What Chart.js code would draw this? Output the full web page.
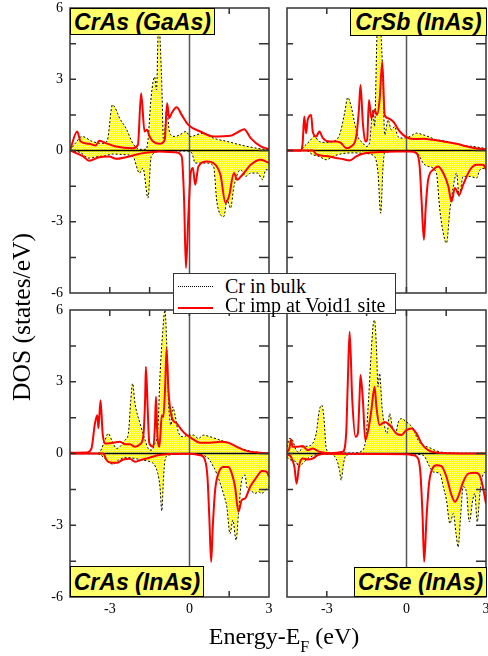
<!DOCTYPE html>
<html>
<head>
<meta charset="utf-8">
<script src="https://cdn.jsdelivr.net/npm/chart.js@4.4.1/dist/chart.umd.min.js"></script>
<style>
  html, body { margin: 0; padding: 0; background: #fff; }
  #wrap { position: relative; width: 488px; height: 656px; overflow: hidden; }
  canvas { position: absolute; left: 0; top: 0; }
  .lab { position: absolute; box-sizing: border-box; border: 1px solid #000;
         background: #ffff6a;
         font-family: "Liberation Sans", Arial, sans-serif; font-weight: bold; font-style: italic;
         font-size: 23px; color: #000; text-align: center; white-space: nowrap; z-index: 5; }
  .title { position: absolute; font-family: "Liberation Serif", "Times New Roman", serif; font-size: 24px; color: #000; white-space: nowrap; z-index: 5; }
  #legend { position: absolute; left: 173px; top: 273px; width: 223px; height: 41px; box-sizing: border-box;
            border: 1px solid #333; background: #fff; z-index: 6;
            font-family: "Liberation Serif", "Times New Roman", serif; font-size: 20px; color: #000; }
  .row { position: absolute; left: 0; height: 20px; line-height: 20px; white-space: nowrap; }
  .sample { position: absolute; left: 4px; width: 35px; }
  .txt { position: absolute; left: 51px; top: 0; }
</style>
</head>
<body>
<div id="wrap">
  <canvas id="c0" width="488" height="656"></canvas>
  <canvas id="c1" width="488" height="656"></canvas>
  <canvas id="c2" width="488" height="656"></canvas>
  <canvas id="c3" width="488" height="656"></canvas>

  <div class="lab" style="left:70px;top:8px;width:145px;height:27px;line-height:26px;">CrAs (GaAs)</div>
  <div class="lab" style="left:350px;top:8px;width:137px;height:28px;line-height:27px;">CrSb (InAs)</div>
  <div class="lab" style="left:70px;top:566px;width:134px;height:31px;line-height:30px;">CrAs (InAs)</div>
  <div class="lab" style="left:354px;top:567px;width:133px;height:30px;line-height:29px;">CrSe (InAs)</div>

  <div id="legend">
    <div class="row" style="top:2px;width:100%;">
      <div class="sample" style="top:10px;border-top:1px dotted #000;"></div>
      <div class="txt">Cr in bulk</div>
    </div>
    <div class="row" style="top:21px;width:100%;">
      <div class="sample" style="top:12px;border-top:2px solid #ff0000;"></div>
      <div class="txt">Cr imp at Void1 site</div>
    </div>
  </div>

  <div class="title" style="left:-128px;top:305px;width:300px;text-align:center;line-height:24px;font-size:25.5px;transform:rotate(-90deg);">DOS (states/eV)</div>
  <div class="title" style="left:134px;top:624px;width:300px;text-align:center;line-height:24px;">Energy-E<span style="font-size:16px;position:relative;top:8px;">F</span> (eV)</div>
</div>

<script>
// ---------------- DATA ----------------
const energyMin = -4.5;
const energyMax = 3;
const dosMin = -6;
const dosMax = 6;
const panelLabels = ["CrAs (GaAs)", "CrSb (InAs)", "CrAs (InAs)", "CrSe (InAs)"];
const seriesNames = ["Cr in bulk", "Cr imp at Void1 site"];

// Top-left: CrAs (GaAs)
const tlBulkUpE = [-4.5, -4.3, -4.04, -3.66, -3.28, -3.1, -2.9, -2.6, -2.39, -2.13, -1.88, -1.63, -1.56, -1.44, -1.31, -1.24, -1.16, -1.05, -0.97, -0.86, -0.74, -0.55, -0.36, -0.13, 0.03, 0.53, 0.91, 1.42, 2.06, 2.69, 3.0];
const tlBulkUpD = [0, 0.3, 0.59, 0.38, 0.3, 0.4, 1.92, 1.3, 0.94, 0.3, 0.05, 0.05, 0.45, 2.27, 3.1, 2.55, 5.5, 3.1, 0.3, 1.7, 0.73, 0.59, 0.66, 0.8, 0.59, 0.73, 0.52, 0.38, 0.2, 0.07, 0.03];
const tlBulkDnE = [-4.5, -4.12, -3.78, -3.4, -3.15, -2.9, -2.39, -2.13, -1.88, -1.75, -1.56, -1.44, -1.12, -0.1, 0.09, 0.22, 0.66, 0.91, 1.04, 1.3, 1.42, 1.55, 1.68, 1.93, 2.12, 2.31, 2.57, 2.76, 2.88, 3.0];
const tlBulkDnD = [0, -0.08, -0.32, -0.25, -0.22, -0.15, -0.18, -0.25, -0.95, -0.74, -2.0, -0.25, -0.04, -0.02, -0.1, -0.53, -0.53, -0.67, -2.2, -2.78, -2.07, -2.43, -1.51, -0.81, -1.09, -0.95, -0.95, -1.23, -0.81, -0.81];
const tlImpUpE = [-4.5, -4.23, -4.1, -3.78, -3.53, -3.4, -3.15, -2.77, -2.13, -1.94, -1.82, -1.69, -1.6, -1.5, -1.37, -1.12, -0.93, -0.84, -0.76, -0.67, -0.48, -0.29, -0.04, 0.41, 0.91, 1.55, 1.87, 2.06, 2.31, 2.69, 3.0];
const tlImpUpD = [0, 0.8, 0.38, 0.28, 0.21, 0.41, 0.31, 0.17, 0.1, 0.24, 2.41, 0.8, 0.87, 0.59, 0.38, 0.28, 0.45, 1.99, 1.36, 1.57, 1.82, 1.5, 1.08, 0.8, 0.59, 0.62, 0.8, 0.9, 0.52, 0.17, 0.06];
const tlImpDnE = [-4.5, -4.0, -3.78, -3.4, -3.02, -2.77, -2.39, -1.75, -1.12, -0.48, -0.29, -0.2, -0.13, -0.04, 0.05, 0.13, 0.22, 0.34, 0.66, 0.91, 1.17, 1.36, 1.49, 1.68, 1.8, 2.0, 2.31, 2.69, 3.0];
const tlImpDnD = [0, -0.25, -0.43, -0.28, -0.25, -0.35, -0.28, -0.11, -0.04, -0.08, -0.25, -2.07, -4.95, -2.78, -0.95, -0.74, -1.44, -0.67, -0.46, -0.53, -1.02, -2.2, -1.94, -0.95, -1.23, -1.02, -0.6, -0.39, -0.53];

// Top-right: CrSb (InAs)
const trBulkUpE = [-4.5, -3.97, -3.91, -3.66, -3.47, -3.28, -3.03, -2.77, -2.52, -2.33, -2.21, -2.08, -1.95, -1.83, -1.64, -1.51, -1.39, -1.32, -1.26, -1.2, -1.11, -1.03, -0.95, -0.88, -0.82, -0.69, -0.57, -0.44, -0.32, -0.13, 0.13, 0.38, 0.63, 0.88, 1.13, 1.39, 1.77, 2.14, 2.52, 2.9, 3.0];
const trBulkUpD = [0, 0, 0.1, 0.38, 0.59, 0.38, 0.34, 0.38, 0.66, 1.57, 2.23, 1.85, 1.15, 0.59, 0.31, 0.17, 0.31, 1.15, 1.71, 1.01, 4.8, 6.3, 4.8, 2.83, 0.66, 1.29, 0.87, 1.01, 0.59, 0.52, 0.59, 0.73, 0.66, 0.56, 0.45, 0.42, 0.31, 0.21, 0.17, 0.1, 0.08];
const trBulkDnE = [-4.5, -3.78, -3.53, -3.28, -3.03, -2.77, -2.4, -2.02, -1.51, -1.2, -1.07, -0.97, -0.88, -0.82, -0.38, 0, 0.25, 0.44, 0.63, 0.82, 1.13, 1.26, 1.39, 1.51, 1.64, 1.77, 1.89, 1.99, 2.14, 2.4, 2.65, 2.77, 3.0];
const trBulkDnD = [0, 0, -0.18, -0.25, -0.39, -0.25, -0.13, -0.1, -0.13, -0.25, -0.95, -2.64, -0.67, -0.1, -0.04, -0.01, -0.04, -0.14, -0.53, -0.67, -0.95, -2.5, -3.48, -3.9, -2.5, -1.51, -0.95, -1.94, -1.09, -1.09, -1.16, -0.81, -0.74];
const trImpUpE = [-4.5, -3.97, -3.91, -3.85, -3.78, -3.72, -3.59, -3.53, -3.4, -3.28, -3.15, -2.9, -2.65, -2.46, -2.27, -2.08, -1.89, -1.79, -1.73, -1.64, -1.55, -1.48, -1.41, -1.32, -1.2, -1.11, -1.01, -0.91, -0.82, -0.69, -0.5, -0.25, 0, 0.25, 0.63, 1.01, 1.39, 1.89, 2.4, 2.9, 3.0];
const trImpUpD = [0, 0, 0.31, 1.43, 0.73, 1.29, 1.5, 0.8, 0.59, 0.8, 0.52, 0.38, 0.38, 0.31, 0.1, 0.17, 0.59, 1.71, 2.76, 1.15, 0.38, 0.45, 2.13, 1.36, 1.71, 1.5, 2.13, 3.74, 1.5, 1.36, 1.22, 0.8, 0.56, 0.48, 0.49, 0.45, 0.38, 0.28, 0.14, 0.06, 0.05];
const trImpDnE = [-4.5, -3.53, -3.4, -3.15, -2.9, -2.65, -2.4, -2.14, -1.89, -1.64, -1.26, -0.88, -0.38, 0.13, 0.38, 0.5, 0.57, 0.66, 0.73, 0.82, 1.01, 1.2, 1.39, 1.58, 1.7, 1.83, 1.98, 2.14, 2.4, 2.65, 2.9, 3.0];
const trImpDnD = [0, 0, -0.15, -0.22, -0.25, -0.32, -0.36, -0.42, -0.25, -0.14, -0.08, -0.06, -0.04, -0.04, -0.11, -0.67, -2.07, -3.76, -2.36, -1.23, -0.81, -0.67, -0.95, -1.51, -2.15, -1.58, -1.87, -1.44, -0.81, -0.6, -0.6, -0.81];

// Bottom-left: CrAs (InAs)
const blBulkUpE = [-4.5, -3.5, -3.37, -3.18, -3.06, -2.93, -2.74, -2.62, -2.43, -2.3, -2.21, -2.14, -2.05, -1.86, -1.67, -1.55, -1.42, -1.3, -1.19, -1.11, -1.01, -0.92, -0.86, -0.79, -0.69, -0.63, -0.54, -0.42, -0.23, -0.04, 0.15, 0.34, 0.53, 0.78, 1.16, 1.53, 1.79, 2.16, 2.67, 3.0];
const blBulkUpD = [0, 0, 0.07, 0.56, 0.84, 0.56, 0.21, 0.28, 0.56, 0.84, 2.23, 2.93, 2.09, 1.26, 0.56, 0.21, 0.14, 0.42, 0.98, 3.21, 5.02, 6.0, 4.74, 2.23, 1.19, 1.95, 1.6, 0.91, 0.7, 0.77, 0.77, 0.63, 0.77, 0.7, 0.56, 0.42, 0.28, 0.14, 0.04, 0.01];
const blBulkDnE = [-4.5, -3.5, -3.25, -3.06, -2.87, -2.68, -2.37, -1.86, -1.61, -1.36, -1.19, -1.11, -1.04, -0.98, -0.92, -0.79, -0.35, 0.15, 0.65, 0.91, 1.03, 1.28, 1.41, 1.53, 1.64, 1.76, 1.85, 1.97, 2.1, 2.16, 2.29, 2.48, 2.6, 2.73, 2.86, 3.0];
const blBulkDnD = [0, 0, -0.14, -0.35, -0.45, -0.28, -0.17, -0.25, -0.31, -0.42, -0.84, -1.39, -2.4, -1.12, -0.28, -0.07, -0.03, -0.03, -0.14, -0.56, -0.84, -1.67, -2.23, -3.35, -2.79, -3.63, -2.51, -1.12, -0.91, -1.39, -1.53, -1.67, -1.6, -1.67, -1.53, -1.39];
const blImpUpE = [-4.5, -3.87, -3.69, -3.56, -3.47, -3.43, -3.35, -3.27, -3.18, -2.87, -2.62, -2.43, -2.24, -2.05, -1.86, -1.74, -1.67, -1.64, -1.57, -1.51, -1.36, -1.3, -1.26, -1.21, -1.13, -1.04, -0.98, -0.91, -0.86, -0.79, -0.67, -0.48, -0.29, -0.1, 0.15, 0.4, 0.78, 1.16, 1.47, 1.79, 2.16, 2.67, 3.0];
const blImpUpD = [0.03, 0.04, 0.21, 1.26, 1.6, 1.05, 2.23, 0.84, 0.42, 0.45, 0.49, 0.39, 0.39, 0.28, 0.39, 0.7, 2.23, 3.63, 1.81, 0.42, 0.28, 1.12, 2.37, 0.84, 0.28, 1.6, 1.53, 2.93, 4.39, 2.65, 1.53, 1.26, 0.98, 0.77, 0.59, 0.45, 0.45, 0.49, 0.45, 0.28, 0.11, 0.03, 0.01];
const blImpDnE = [-4.5, -3.25, -3.12, -2.99, -2.74, -2.49, -2.24, -2.05, -1.86, -1.61, -1.23, -0.86, -0.1, 0.4, 0.59, 0.68, 0.75, 0.82, 0.88, 0.97, 1.09, 1.28, 1.47, 1.6, 1.72, 1.85, 1.97, 2.1, 2.29, 2.54, 2.73, 2.92, 3.0];
const blImpDnD = [0, 0, -0.28, -0.38, -0.39, -0.25, -0.22, -0.35, -0.28, -0.21, -0.08, -0.03, -0.01, -0.07, -0.28, -0.98, -2.65, -4.53, -3.07, -1.53, -0.84, -0.56, -0.56, -0.84, -1.39, -2.44, -1.95, -1.88, -1.39, -0.98, -0.73, -0.77, -0.98];

// Bottom-right: CrSe (InAs)
const brBulkUpE = [-4.5, -4.41, -4.29, -4.16, -4.04, -3.91, -3.72, -3.53, -3.4, -3.28, -3.19, -3.11, -3.03, -2.9, -2.0, -1.64, -1.51, -1.42, -1.35, -1.26, -1.2, -1.13, -1.07, -1.01, -0.92, -0.82, -0.73, -0.63, -0.53, -0.4, -0.32, -0.19, 0, 0.25, 0.44, 0.63, 0.88, 1.13, 1.51, 2.14, 3.0];
const brBulkUpD = [0.28, 0.63, 0.56, 0.14, 0.07, 0.28, 0.31, 0.42, 0.84, 1.81, 2.02, 1.53, 0.28, 0.03, 0.02, 0.14, 0.84, 2.37, 3.77, 5.3, 5.58, 4.46, 2.79, 3.35, 1.95, 1.12, 0.84, 1.67, 1.12, 0.84, 1.26, 1.46, 1.32, 1.05, 0.56, 0.35, 0.24, 0.11, 0.03, 0.01, 0.01];
const brBulkDnE = [-4.5, -4.35, -4.16, -4.04, -3.91, -3.72, -3.53, -3.28, -2.9, -2.65, -2.52, -2.46, -2.37, -2.27, -1.89, -0.13, 0.63, 0.88, 1.01, 1.26, 1.39, 1.51, 1.64, 1.77, 1.87, 1.95, 2.04, 2.14, 2.27, 2.37, 2.5, 2.58, 2.67, 2.77, 2.9, 3.0];
const brBulkDnD = [-0.14, -0.28, -0.35, -0.56, -0.42, -0.21, -0.1, -0.03, -0.03, -0.21, -0.7, -1.12, -0.42, -0.07, -0.03, -0.01, -0.07, -0.56, -0.77, -0.84, -1.39, -1.95, -2.93, -2.51, -3.35, -3.91, -2.65, -1.39, -1.67, -2.86, -1.95, -1.67, -2.86, -1.67, -0.84, -0.77];
const brImpUpE = [-4.5, -4.41, -4.35, -4.29, -4.16, -3.91, -3.72, -3.53, -3.28, -2.9, -2.4, -2.27, -2.21, -2.14, -2.04, -1.92, -1.83, -1.77, -1.73, -1.64, -1.55, -1.45, -1.32, -1.2, -1.13, -1.01, -0.82, -0.63, -0.38, -0.19, 0, 0.19, 0.38, 0.57, 0.82, 1.13, 1.64, 3.0];
const brImpUpD = [0.07, 0.21, 0.59, 0.28, 0.28, 0.31, 0.14, 0.21, 0.07, 0.01, 0.07, 0.84, 2.93, 5.09, 2.23, 0.7, 0.84, 2.23, 3.28, 2.23, 0.56, 0.91, 1.81, 2.79, 1.95, 1.19, 1.32, 1.19, 0.84, 0.77, 0.98, 1.05, 0.84, 0.42, 0.14, 0.04, 0.01, 0];
const brImpDnE = [-4.5, -4.35, -4.22, -4.14, -4.04, -3.91, -3.72, -3.53, -3.34, -3.0, 0, 0.25, 0.44, 0.53, 0.61, 0.67, 0.76, 0.86, 0.98, 1.13, 1.32, 1.51, 1.7, 1.83, 1.95, 2.14, 2.33, 2.59, 2.71, 2.84, 3.0];
const brImpDnD = [-0.03, -0.14, -0.56, -1.26, -0.49, -0.21, -0.25, -0.21, -0.07, -0.01, -0.03, -0.07, -0.21, -0.84, -2.65, -4.53, -2.65, -1.19, -0.63, -0.49, -0.53, -0.98, -1.74, -2.02, -1.81, -1.19, -0.84, -0.81, -0.84, -1.19, -2.09];

// ---------------- DRAWING ----------------
function pts(xs, ys) { return xs.map((x, i) => ({ x: x, y: ys[i] })); }

function yellowPattern() {
  const c = document.createElement('canvas');
  c.width = 2; c.height = 2;
  const g = c.getContext('2d');
  g.fillStyle = '#ffff00'; g.fillRect(0, 0, 2, 2);
  g.fillStyle = '#ffff88'; g.fillRect(0, 0, 1, 1); g.fillRect(1, 1, 1, 1);
  return g.createPattern(c, 'repeat');
}
const fillPat = yellowPattern();

const zeroLines = {
  id: 'zeroLines',
  beforeDatasetsDraw(chart) {
    const { ctx, chartArea: a, scales: { x, y } } = chart;
    ctx.save();
    const px = Math.round(x.getPixelForValue(0)) + 0.5;
    ctx.strokeStyle = '#555'; ctx.lineWidth = 1.5;
    ctx.beginPath(); ctx.moveTo(px, a.top); ctx.lineTo(px, a.bottom); ctx.stroke();
    const py = y.getPixelForValue(0);
    ctx.strokeStyle = '#000'; ctx.lineWidth = 1.6;
    ctx.beginPath(); ctx.moveTo(a.left, py); ctx.lineTo(a.right, py); ctx.stroke();
    ctx.restore();
  }
};

const frame = {
  id: 'frame',
  afterDatasetsDraw(chart) {
    const { ctx, chartArea: a, scales: { x, y } } = chart;
    ctx.save();
    ctx.strokeStyle = '#333'; ctx.lineWidth = 1.5;
    ctx.beginPath();
    x.ticks.forEach(t => {
      const p = x.getPixelForValue(t.value);
      if (p <= a.left + 1 || p >= a.right - 1) return;
      ctx.moveTo(p, a.bottom); ctx.lineTo(p, a.bottom - 6);
      ctx.moveTo(p, a.top); ctx.lineTo(p, a.top + 6);
    });
    y.ticks.forEach(t => {
      const p = y.getPixelForValue(t.value);
      if (p <= a.top + 1 || p >= a.bottom - 1) return;
      ctx.moveTo(a.left, p); ctx.lineTo(a.left + 6, p);
      ctx.moveTo(a.right, p); ctx.lineTo(a.right - 10, p);
    });
    ctx.stroke();
    ctx.strokeRect(a.left, a.top, a.right - a.left, a.bottom - a.top);
    ctx.restore();
  }
};

const tickFont = { family: "'Liberation Serif', 'Times New Roman', serif", size: 14, lineHeight: 1 };
function lbl(v) { return Math.abs(v % 3) < 1e-9 ? String(v) : ''; }

function makePanel(id, area, showX, showY, bulkUp, bulkDn, impUp, impDn) {
  const yW = showY ? 40 : 0;
  const xH = showX ? 30 : 0;
  const pad = {
    left: area.left - yW,
    right: 488 - area.right,
    top: area.top,
    bottom: 656 - area.bottom - xH
  };
  const bulkStyle = { borderColor: '#000', borderWidth: 1, borderDash: [2, 2], backgroundColor: fillPat, fill: 'origin', pointRadius: 0, cubicInterpolationMode: 'monotone', order: 2 };
  const impStyle = { borderColor: '#ff0000', borderWidth: 2, fill: false, pointRadius: 0, cubicInterpolationMode: 'monotone', order: 1 };
  new Chart(document.getElementById(id), {
    type: 'line',
    data: {
      datasets: [
        Object.assign({ label: seriesNames[1] + ' up', data: impUp }, impStyle),
        Object.assign({ label: seriesNames[1] + ' down', data: impDn }, impStyle),
        Object.assign({ label: seriesNames[0] + ' up', data: bulkUp }, bulkStyle),
        Object.assign({ label: seriesNames[0] + ' down', data: bulkDn }, bulkStyle)
      ]
    },
    options: {
      responsive: false,
      animation: false,
      devicePixelRatio: 1,
      events: [],
      layout: { padding: pad },
      plugins: { legend: { display: false }, tooltip: { enabled: false }, filler: { drawTime: 'beforeDatasetsDraw' } },
      scales: {
        x: {
          type: 'linear', min: energyMin, max: energyMax,
          grid: { display: false, drawTicks: false },
          border: { display: false },
          ticks: { stepSize: 1.5, autoSkip: false, maxRotation: 0, display: showX, color: '#000', font: tickFont, padding: 5, callback: lbl },
          afterFit: s => { s.height = xH; s.paddingLeft = 0; s.paddingRight = 0; s.paddingTop = 0; s.paddingBottom = 0; }
        },
        y: {
          type: 'linear', min: dosMin, max: dosMax,
          grid: { display: false, drawTicks: false },
          border: { display: false },
          ticks: { stepSize: 1.5, autoSkip: false, display: showY, color: '#000', font: tickFont, padding: 7, callback: lbl },
          afterFit: s => { s.width = yW; s.paddingTop = 0; s.paddingBottom = 0; s.paddingLeft = 0; s.paddingRight = 0; }
        }
      }
    },
    plugins: [zeroLines, frame]
  });
}

makePanel('c0', { left: 70, right: 269, top: 8, bottom: 293 }, false, true,
  pts(tlBulkUpE, tlBulkUpD), pts(tlBulkDnE, tlBulkDnD), pts(tlImpUpE, tlImpUpD), pts(tlImpDnE, tlImpDnD));
makePanel('c1', { left: 287, right: 486, top: 8, bottom: 293 }, false, false,
  pts(trBulkUpE, trBulkUpD), pts(trBulkDnE, trBulkDnD), pts(trImpUpE, trImpUpD), pts(trImpDnE, trImpDnD));
makePanel('c2', { left: 70, right: 269, top: 310, bottom: 597 }, true, true,
  pts(blBulkUpE, blBulkUpD), pts(blBulkDnE, blBulkDnD), pts(blImpUpE, blImpUpD), pts(blImpDnE, blImpDnD));
makePanel('c3', { left: 287, right: 486, top: 310, bottom: 597 }, true, false,
  pts(brBulkUpE, brBulkUpD), pts(brBulkDnE, brBulkDnD), pts(brImpUpE, brImpUpD), pts(brImpDnE, brImpDnD));
</script>
</body>
</html>
